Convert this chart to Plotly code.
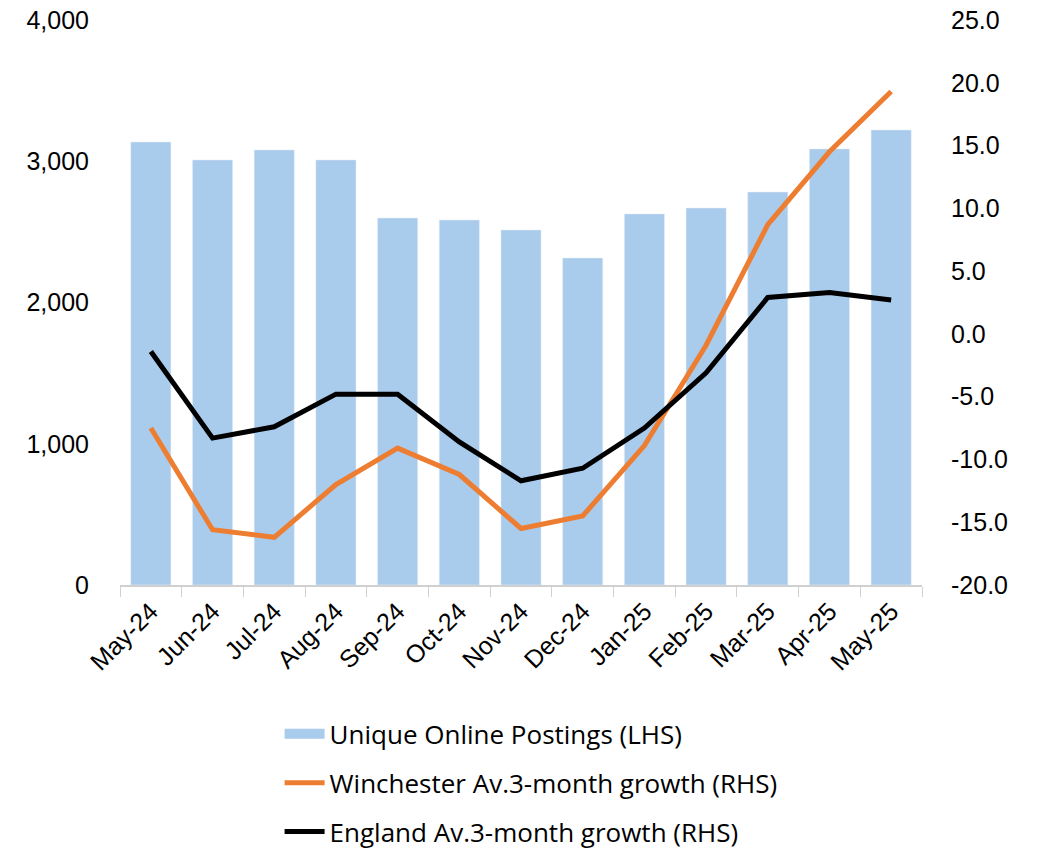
import plotly.graph_objects as go

months = ["May-24", "Jun-24", "Jul-24", "Aug-24", "Sep-24", "Oct-24", "Nov-24",
          "Dec-24", "Jan-25", "Feb-25", "Mar-25", "Apr-25", "May-25"]
postings = [3136, 3009, 3080, 3009, 2598, 2584, 2513, 2315, 2627, 2669, 2782, 3087, 3221]
winchester = [-7.5, -15.6, -16.2, -12.0, -9.1, -11.2, -15.5, -14.5, -8.9, -0.9, 8.7, 14.5, 19.3]
england = [-1.4, -8.3, -7.4, -4.8, -4.8, -8.6, -11.7, -10.7, -7.5, -3.1, 2.9, 3.3, 2.7]
left_ticks = [0, 1000, 2000, 3000, 4000]
right_ticks = [-20, -15, -10, -5, 0, 5, 10, 15, 20, 25]

BAR_COLOR = "#A9CBEC"

fig = go.Figure()
fig.add_trace(go.Bar(x=months, y=postings, name="Unique Online Postings (LHS)",
                     marker=dict(color=BAR_COLOR), showlegend=False))
# legend entry for the bars drawn as a wide swatch
fig.add_trace(go.Scatter(x=[None], y=[None], name="Unique Online Postings (LHS)",
                         mode="lines", line=dict(color=BAR_COLOR, width=16),
                         legendgroup="a"))
fig.add_trace(go.Scatter(x=months, y=winchester, name="Winchester Av.3-month growth (RHS)",
                         mode="lines", line=dict(color="#ED7D31", width=5), yaxis="y2",
                         legendgroup="b"))
fig.add_trace(go.Scatter(x=months, y=england, name="England Av.3-month growth (RHS)",
                         mode="lines", line=dict(color="#000000", width=5), yaxis="y2",
                         legendgroup="c"))

tickfont = dict(family="Liberation Sans", size=25, color="#000000")
fig.update_layout(
    width=1030, height=840,
    margin=dict(l=112, r=116, t=12, b=263, autoexpand=False),
    paper_bgcolor="white", plot_bgcolor="white",
    bargap=0.35,
    showlegend=True,
    legend=dict(x=0.199, y=-0.222, xanchor="left", yanchor="top", orientation="v",
                font=dict(family="Open Sans", size=26, color="#000000"),
                tracegroupgap=12, itemwidth=40),
    xaxis=dict(tickangle=-45, tickfont=tickfont, showline=True, linecolor="#D0D0D0",
               linewidth=1.5, ticks="outside", tickson="boundaries", ticklen=10,
               tickcolor="#D0D0D0", showgrid=False, automargin=False,
               ticklabeloverflow="allow"),
    yaxis=dict(range=[0, 4000], tickvals=left_ticks,
               ticktext=[f"{v:,}" for v in left_ticks],
               tickfont=tickfont, showgrid=False, zeroline=False, ticklabelstandoff=30,
               automargin=False, ticklabeloverflow="allow"),
    yaxis2=dict(range=[-20, 25], tickvals=right_ticks,
                ticktext=[f"{v:.1f}" for v in right_ticks],
                overlaying="y", side="right", tickfont=tickfont,
                showgrid=False, zeroline=False, ticklabelstandoff=28, automargin=False,
                ticklabeloverflow="allow"),
)

fig.write_html("out.html")
